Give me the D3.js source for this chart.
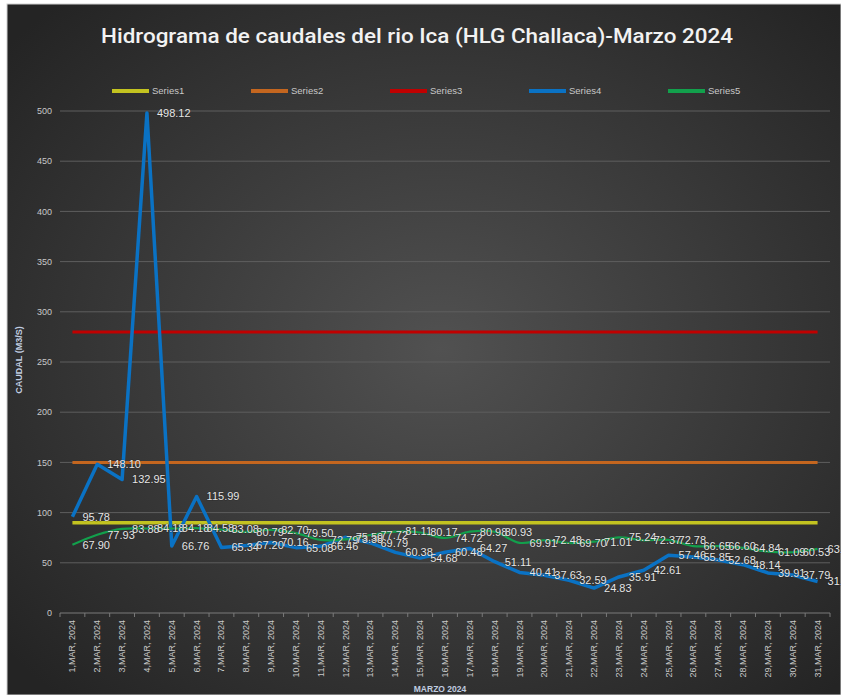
<!DOCTYPE html>
<html>
<head>
<meta charset="utf-8">
<script src="https://cdn.jsdelivr.net/npm/d3@7"></script>
<style>
  body { margin: 0; background: #ffffff; }
  svg { display: block; }
</style>
</head>
<body>
<div id="chart"></div>
<script>
// Hidrograma de caudales - rio Ica (HLG Challaca), marzo 2024

const days = [1, 2, 3, 4, 5, 6, 7, 8, 9, 10, 11, 12, 13, 14, 15, 16,
              17, 18, 19, 20, 21, 22, 23, 24, 25, 26, 27, 28, 29, 30, 31];
const dayLabels = days.map(d => d + ',MAR, 2024');

// umbrales constantes
const series1 = days.map(() => 90);
const series2 = days.map(() => 150);
const series3 = days.map(() => 280);

// caudal diario
const series4 = [95.78, 148.10, 132.95, 498.12, 66.76, 115.99, 65.34, 67.20, 70.16, 65.08,
                 66.46, 75.50, 69.79, 60.38, 54.68, 60.48, 64.27, 51.11, 40.41, 37.63,
                 32.59, 24.83, 35.91, 42.61, 57.46, 55.85, 52.68, 48.14, 39.91, 37.79, 31.43];
// promedio historico
const series5 = [67.90, 77.93, 83.88, 84.18, 84.18, 84.58, 83.08, 80.79, 82.70, 79.50,
                 72.79, 73.38, 77.72, 81.11, 80.17, 74.72, 80.98, 80.93, 69.91, 72.48,
                 69.70, 71.01, 75.24, 72.37, 72.78, 66.65, 66.60, 64.84, 61.09, 60.53, 63.92];

const yTicks = [0, 50, 100, 150, 200, 250, 300, 350, 400, 450, 500];
const seriesNames = ['Series1', 'Series2', 'Series3', 'Series4', 'Series5'];
const seriesColors = ['#c3c320', '#c4661f', '#c00000', '#0a72c4', '#12a04c'];

const width = 841, height = 695;
const plot = { left: 60, right: 830, top: 111, bottom: 613 };
const font = '"Liberation Sans Narrow", "Liberation Sans", Arial, sans-serif';

const svg = d3.select('#chart').append('svg')
    .attr('width', width)
    .attr('height', height);

// dark radial background
const defs = svg.append('defs');
const grad = defs.append('radialGradient')
    .attr('id', 'bg')
    .attr('cx', '52%').attr('cy', '50%').attr('r', '68%');
grad.append('stop').attr('offset', '0%').attr('stop-color', '#515151');
grad.append('stop').attr('offset', '100%').attr('stop-color', '#242424');

svg.append('rect')
    .attr('x', 7).attr('y', 4)
    .attr('width', width - 7).attr('height', height - 4)
    .attr('fill', 'url(#bg)')
    .attr('stroke', '#d0d0d0')
    .attr('stroke-width', 1);

const x = d3.scaleBand().domain(days).range([plot.left, plot.right]);
const y = d3.scaleLinear().domain([0, 500]).range([plot.bottom, plot.top]);
const cx = d => x(d) + x.bandwidth() / 2;

// title
svg.append('text')
    .attr('x', 417).attr('y', 43)
    .attr('text-anchor', 'middle')
    .attr('font-family', 'Roboto, sans-serif')
    .attr('font-size', 20)
    .attr('font-weight', 500)
    .attr('fill', '#f2f2f2')
    .attr('textLength', 632)
    .attr('lengthAdjust', 'spacingAndGlyphs')
    .text('Hidrograma  de caudales  del rio Ica (HLG Challaca)-Marzo  2024');

// gridlines
svg.append('g')
    .selectAll('line')
    .data(yTicks.filter(t => t > 0))
    .enter().append('line')
    .attr('x1', plot.left).attr('x2', plot.right)
    .attr('y1', d => y(d)).attr('y2', d => y(d))
    .attr('stroke', '#5e5e5e')
    .attr('stroke-width', 1);

// y axis labels
svg.append('g')
    .selectAll('text')
    .data(yTicks)
    .enter().append('text')
    .attr('x', 52).attr('y', d => y(d))
    .attr('dy', '0.35em')
    .attr('text-anchor', 'end')
    .attr('font-family', font)
    .attr('font-size', 9)
    .attr('fill', '#c8c8c8')
    .text(d => d);

svg.append('text')
    .attr('transform', 'translate(22,' + 360 + ') rotate(-90)')
    .attr('text-anchor', 'middle')
    .attr('font-family', font)
    .attr('font-size', 9)
    .attr('font-weight', 'bold')
    .attr('fill', '#c0cde0')
    .text('CAUDAL (M3/S)');

// x axis
const xAxis = svg.append('g');
xAxis.append('line')
    .attr('x1', plot.left).attr('x2', plot.right)
    .attr('y1', plot.bottom).attr('y2', plot.bottom)
    .attr('stroke', '#7a7a7a');
xAxis.selectAll('.tick')
    .data(days.concat([null]))
    .enter().append('line')
    .attr('x1', d => d === null ? plot.right : x(d))
    .attr('x2', d => d === null ? plot.right : x(d))
    .attr('y1', plot.bottom).attr('y2', plot.bottom + 4)
    .attr('stroke', '#7a7a7a');
xAxis.selectAll('text')
    .data(days)
    .enter().append('text')
    .attr('transform', d => 'translate(' + (cx(d) + 3) + ',' + (plot.bottom + 7) + ') rotate(-90)')
    .attr('text-anchor', 'end')
    .attr('font-family', font)
    .attr('font-size', 9)
    .attr('fill', '#c8c8c8')
    .text((d, i) => dayLabels[i]);

svg.append('text')
    .attr('x', 440).attr('y', 692)
    .attr('text-anchor', 'middle')
    .attr('font-family', font)
    .attr('font-size', 8.5)
    .attr('font-weight', 'bold')
    .attr('fill', '#c0cde0')
    .text('MARZO 2024');

// series lines
const allSeries = [series1, series2, series3, series4, series5];
const straight = d3.line().x((v, i) => cx(days[i])).y(v => y(v));
const smooth = d3.line().x((v, i) => cx(days[i])).y(v => y(v)).curve(d3.curveCatmullRom);
const widths = [3.5, 3, 3, 3.5, 2.2];

allSeries.forEach((s, k) => {
    svg.append('path')
        .datum(s)
        .attr('fill', 'none')
        .attr('stroke', seriesColors[k])
        .attr('stroke-width', widths[k])
        .attr('stroke-linejoin', 'round')
        .attr('d', k === 4 ? smooth : straight);
});

// data labels for series4 and series5
[series4, series5].forEach(s => {
    svg.append('g')
        .selectAll('text')
        .data(s)
        .enter().append('text')
        .attr('x', (v, i) => cx(days[i]) + 10)
        .attr('y', v => y(v))
        .attr('dy', '0.35em')
        .attr('font-family', font)
        .attr('font-size', 11)
        .attr('fill', '#e6e6e6')
        .attr('stroke', 'rgba(20,20,20,0.35)')
        .attr('stroke-width', 1.2)
        .attr('paint-order', 'stroke')
        .text(v => v.toFixed(2));
});

// legend
const legend = svg.append('g');
seriesNames.forEach((name, k) => {
    const lx = 112 + k * 139;
    legend.append('line')
        .attr('x1', lx).attr('x2', lx + 37)
        .attr('y1', 91).attr('y2', 91)
        .attr('stroke', seriesColors[k])
        .attr('stroke-width', 4);
    legend.append('text')
        .attr('x', lx + 40).attr('y', 91)
        .attr('dy', '0.3em')
        .attr('font-family', font)
        .attr('font-size', 9.5)
        .attr('fill', '#c8c8c8')
        .text(name);
});
</script>
</body>
</html>
